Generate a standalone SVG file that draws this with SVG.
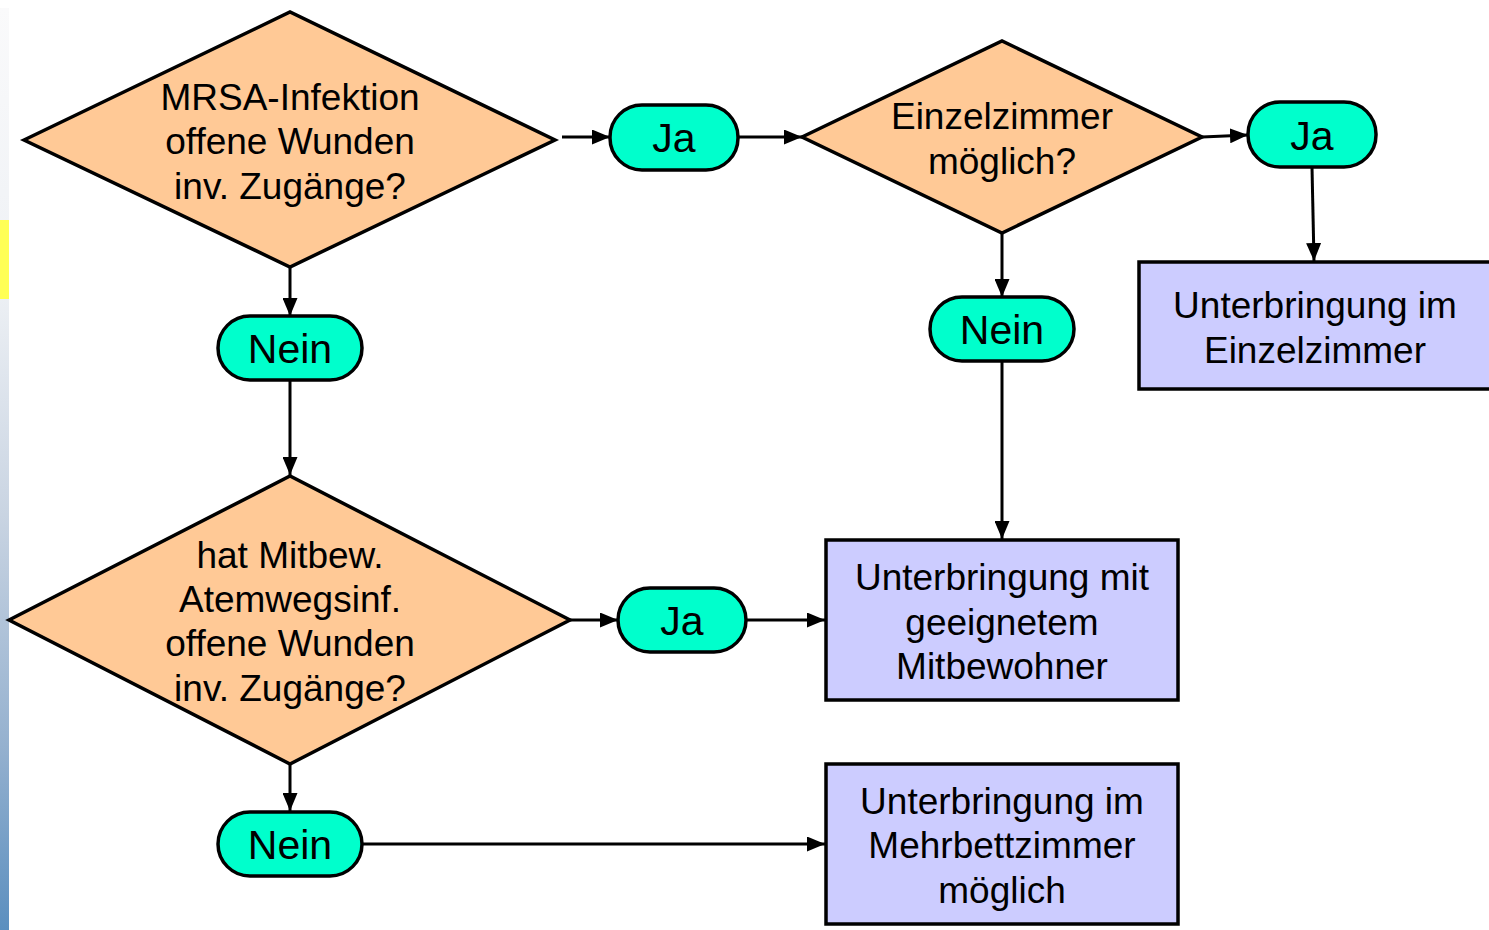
<svg xmlns="http://www.w3.org/2000/svg" width="1489" height="930" viewBox="0 0 1489 930">
<style>
.dia{fill:#FFC996;stroke:#000;stroke-width:3.5;stroke-linejoin:miter}
.pill{fill:#00FFCC;stroke:#000;stroke-width:3.5}
.box{fill:#CCCCFF;stroke:#000;stroke-width:3.5}
.t{font-family:"Liberation Sans",Arial,sans-serif;font-size:37px;fill:#000;text-anchor:middle}
.tp{font-family:"Liberation Sans",Arial,sans-serif;font-size:41px;fill:#000;text-anchor:middle}
.c{stroke:#000;stroke-width:3;fill:none;marker-end:url(#ah)}
</style>
<defs>
<marker id="ah" viewBox="0 0 10 10" refX="10" refY="5" markerWidth="6" markerHeight="5" orient="auto" markerUnits="strokeWidth" preserveAspectRatio="none">
<path d="M0,0 L10,5 L0,10 z" fill="#000"/>
</marker>
<linearGradient id="bar" x1="0" y1="0" x2="0" y2="1">
<stop offset="0" stop-color="#fafafb"/>
<stop offset="0.3" stop-color="#eef1f5"/>
<stop offset="0.55" stop-color="#c9d4e2"/>
<stop offset="0.8" stop-color="#95b1cf"/>
<stop offset="1" stop-color="#5b8fbf"/>
</linearGradient>
</defs>
<rect x="0" y="0" width="1489" height="930" fill="#fff"/>
<rect x="0" y="8" width="9" height="922" fill="url(#bar)"/>
<rect x="0" y="220" width="9" height="79" fill="#FFFF55"/>

<g id="connectors">
<line class="c" x1="562" y1="137" x2="610" y2="137"/>
<line class="c" x1="738" y1="137" x2="802" y2="137"/>
<line class="c" x1="1202" y1="137" x2="1248" y2="135"/>
<line class="c" x1="1312" y1="167" x2="1314" y2="261"/>
<line class="c" x1="290" y1="267" x2="290" y2="316"/>
<line class="c" x1="290" y1="380" x2="290" y2="475"/>
<line class="c" x1="1002" y1="233" x2="1002" y2="297"/>
<line class="c" x1="1002" y1="361" x2="1002" y2="539"/>
<line class="c" x1="570" y1="620" x2="618" y2="620"/>
<line class="c" x1="746" y1="620" x2="825" y2="620"/>
<line class="c" x1="290" y1="764" x2="290" y2="811"/>
<line class="c" x1="362" y1="844" x2="825" y2="844"/>
</g>

<g id="d1">
<polygon class="dia" points="24,140 290,12 555,140 290,267"/>
<text class="t" x="290" y="110">MRSA-Infektion</text>
<text class="t" x="290" y="154">offene Wunden</text>
<text class="t" x="290" y="199">inv. Zugänge?</text>
</g>
<g id="d2">
<polygon class="dia" points="802,137 1002,41 1202,137 1002,233"/>
<text class="t" x="1002" y="129">Einzelzimmer</text>
<text class="t" x="1002" y="174">möglich?</text>
</g>
<g id="d3">
<polygon class="dia" points="9,620 290,476 570,620 290,764"/>
<text class="t" x="290" y="568">hat Mitbew.</text>
<text class="t" x="290" y="612">Atemwegsinf.</text>
<text class="t" x="290" y="656">offene Wunden</text>
<text class="t" x="290" y="701">inv. Zugänge?</text>
</g>

<g id="ja1">
<rect class="pill" x="610" y="105" width="128" height="65" rx="32" ry="32"/>
<text class="tp" x="674" y="152">Ja</text>
</g>
<g id="ja2">
<rect class="pill" x="1248" y="102" width="128" height="65" rx="32" ry="32"/>
<text class="tp" x="1312" y="150">Ja</text>
</g>
<g id="nein1">
<rect class="pill" x="218" y="316" width="144" height="64" rx="32" ry="32"/>
<text class="tp" x="290" y="363">Nein</text>
</g>
<g id="nein2">
<rect class="pill" x="930" y="297" width="144" height="64" rx="32" ry="32"/>
<text class="tp" x="1002" y="344">Nein</text>
</g>
<g id="ja3">
<rect class="pill" x="618" y="588" width="128" height="64" rx="32" ry="32"/>
<text class="tp" x="682" y="635">Ja</text>
</g>
<g id="nein3">
<rect class="pill" x="218" y="812" width="144" height="64" rx="32" ry="32"/>
<text class="tp" x="290" y="859">Nein</text>
</g>

<g id="b1">
<rect class="box" x="1139" y="262" width="356" height="127"/>
<text class="t" x="1315" y="318">Unterbringung im</text>
<text class="t" x="1315" y="363">Einzelzimmer</text>
</g>
<g id="b2">
<rect class="box" x="826" y="540" width="352" height="160"/>
<text class="t" x="1002" y="590">Unterbringung mit</text>
<text class="t" x="1002" y="635">geeignetem</text>
<text class="t" x="1002" y="679">Mitbewohner</text>
</g>
<g id="b3">
<rect class="box" x="826" y="764" width="352" height="160"/>
<text class="t" x="1002" y="814">Unterbringung im</text>
<text class="t" x="1002" y="858">Mehrbettzimmer</text>
<text class="t" x="1002" y="903">möglich</text>
</g>
</svg>
